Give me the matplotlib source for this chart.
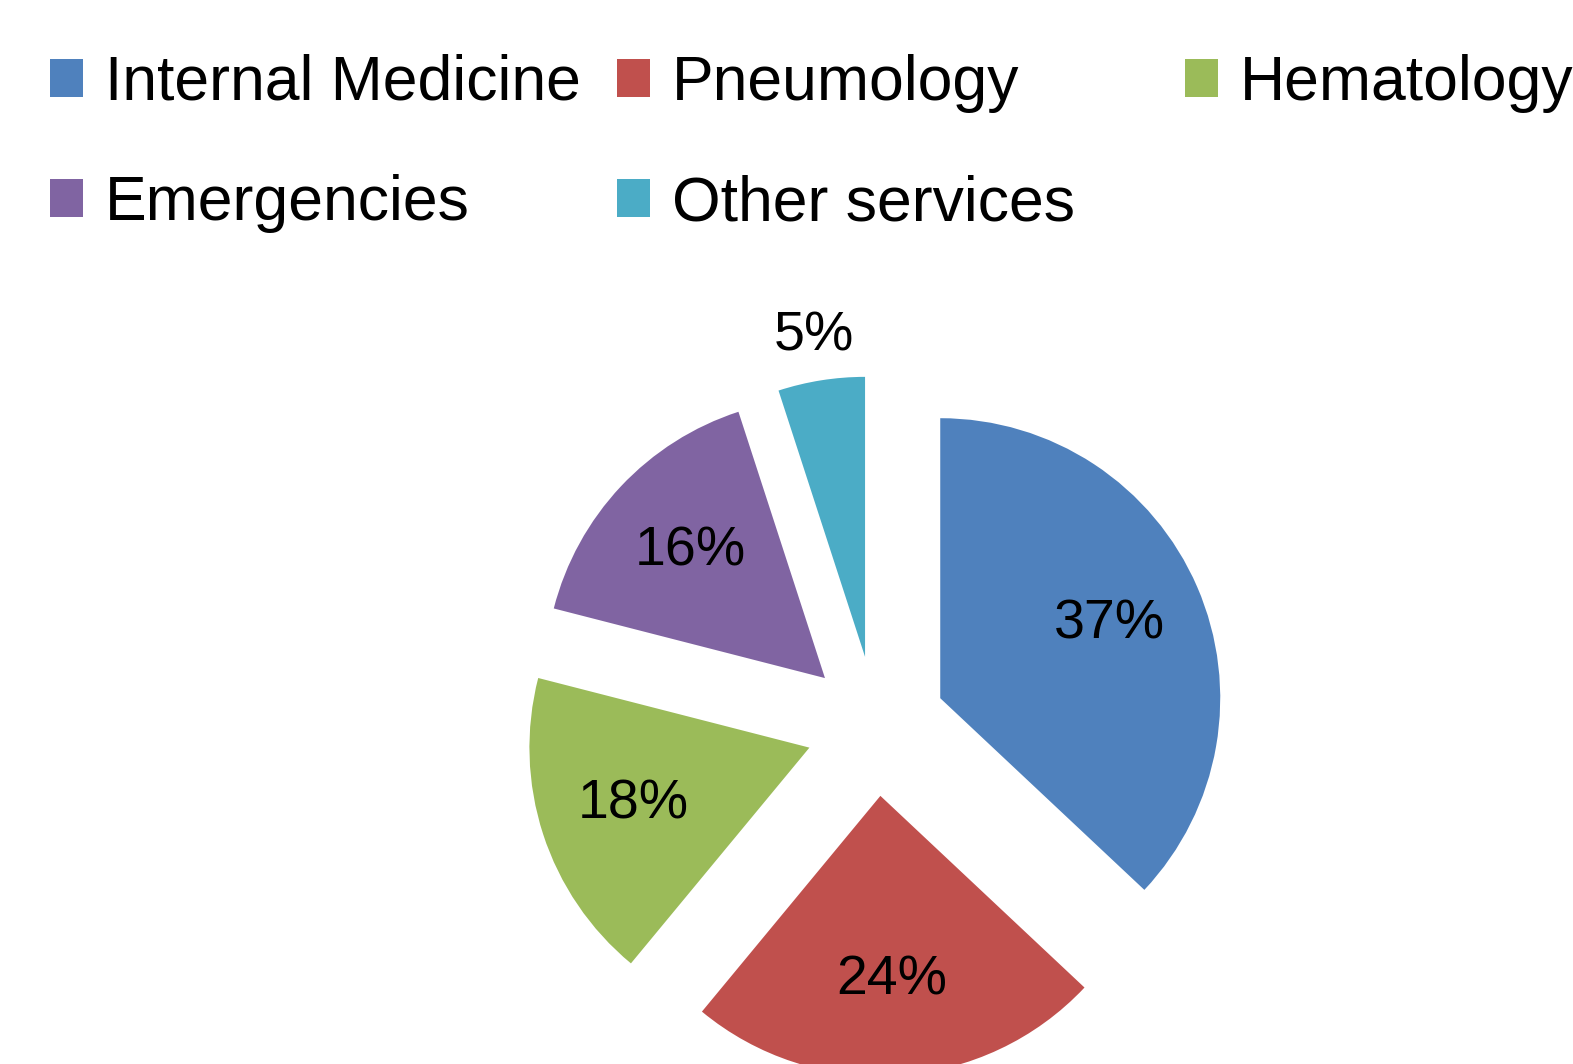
import matplotlib.pyplot as plt
import numpy as np

services = ['Internal Medicine', 'Pneumology', 'Hematology', 'Emergencies', 'Other services']
shares = [37, 24, 18, 16, 5]
colors = ['#4F81BD', '#C0504D', '#9BBB59', '#8064A2', '#4BACC6']

plt.rcParams['font.family'] = 'Liberation Sans'

W, H = 1573, 1064
fig = plt.figure(figsize=(W / 100, H / 100), dpi=100)
ax = fig.add_axes([0, 0, 1, 1])

r = 280
gap = 0.25 * r  # explode is in data units here
wedges, texts, autotexts = ax.pie(shares, colors=colors, startangle=90, counterclock=False,
                                  explode=[gap] * len(shares), radius=r, center=(876, H - 726),
                                  autopct='%d%%', pctdistance=0.66, frame=True,
                                  textprops={'fontsize': 40, 'color': 'black'})
ax.set_xlim(0, W)
ax.set_ylim(0, H)
ax.set_aspect('equal')
ax.axis('off')

# small slice label goes outside
w = wedges[-1]
ang = np.deg2rad((w.theta1 + w.theta2) / 2)
cx, cy = w.center
autotexts[-1].set_position((cx + 1.16 * r * np.cos(ang), cy + 1.16 * r * np.sin(ang)))

# legend: 3 columns, row-major order
col_x = [50, 617, 1185]
for j in range(3):
    fig.legend(wedges[j::3], services[j::3], loc='upper left',
               bbox_to_anchor=(col_x[j] / W, 1 - 54 / H), frameon=False, fontsize=45,
               handlelength=0.53, handleheight=0.56, handletextpad=0.35,
               labelspacing=0.98, borderpad=0, borderaxespad=0)

fig.savefig('out.png', dpi=100)
